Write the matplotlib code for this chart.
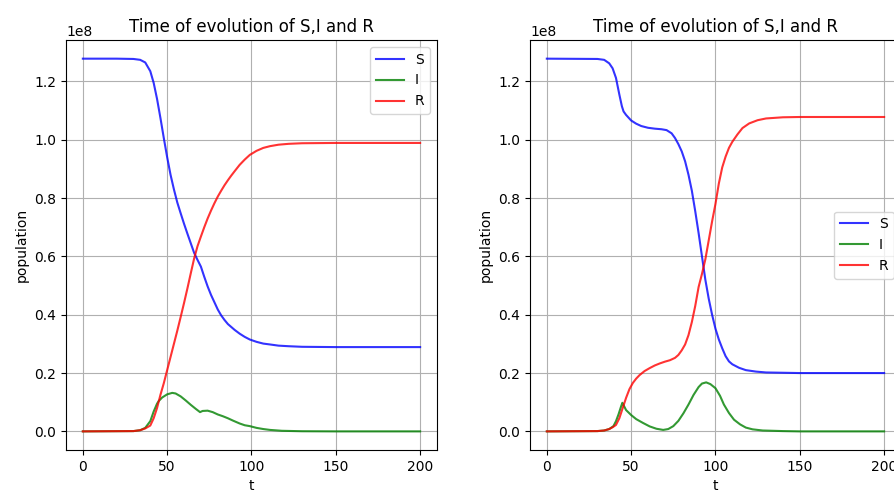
import numpy as np
import matplotlib
matplotlib.use('Agg')
import matplotlib.pyplot as plt

# first run: S, I, R (in units of 1e8 people)
t_s1 = [0, 20, 30, 34, 37, 40, 42, 44, 46, 48, 50, 52, 54, 56, 58, 60, 62, 64, 66, 68,
        70, 72, 74, 76, 78, 80, 82, 84, 86, 88, 90, 93, 96, 99, 103, 107, 111, 116, 122,
        130, 150, 200]
S1 = [1.278, 1.278, 1.277, 1.274, 1.265, 1.235, 1.195, 1.140, 1.075, 1.006, 0.940, 0.880,
      0.830, 0.785, 0.748, 0.712, 0.678, 0.645, 0.612, 0.588, 0.565, 0.530, 0.497, 0.468,
      0.443, 0.418, 0.398, 0.382, 0.368, 0.358, 0.348, 0.335, 0.324, 0.315, 0.307, 0.301,
      0.298, 0.294, 0.292, 0.290, 0.289, 0.289]

t_i1 = [0, 30, 34, 37, 40, 42, 44, 45, 47, 50, 53, 55, 58, 61, 64, 67, 69.5, 71, 74, 77,
        80, 83, 86, 89, 93, 96, 99, 103, 107, 111, 118, 130, 150, 200]
I1 = [0.0, 0.001, 0.004, 0.012, 0.035, 0.068, 0.095, 0.104, 0.116, 0.127, 0.132, 0.130,
      0.120, 0.106, 0.091, 0.077, 0.066, 0.070, 0.071, 0.066, 0.058, 0.052, 0.045, 0.037,
      0.027, 0.021, 0.018, 0.012, 0.008, 0.005, 0.002, 0.0005, 0.0, 0.0]

t_r1 = [0, 30, 34, 37, 40, 42, 44, 46, 48, 50, 52, 54, 56, 58, 60, 62, 64, 66, 68, 70,
        72, 74, 76, 78, 80, 82, 84, 86, 88, 90, 93, 96, 99, 103, 107, 111, 116, 122, 130,
        150, 200]
R1 = [0.0, 0.001, 0.004, 0.010, 0.020, 0.045, 0.080, 0.125, 0.165, 0.210, 0.255, 0.300,
      0.345, 0.392, 0.440, 0.490, 0.542, 0.593, 0.635, 0.668, 0.700, 0.730, 0.757, 0.782,
      0.805, 0.825, 0.844, 0.861, 0.877, 0.892, 0.914, 0.932, 0.948, 0.962, 0.972, 0.978,
      0.983, 0.986, 0.988, 0.989, 0.989]

# second run: two waves
t_s2 = [0, 30, 34, 37, 39, 41, 43, 44.5, 45.5, 47, 50, 53, 56, 60, 64, 68, 71, 74, 76,
        78, 80, 82, 84, 86, 88, 90, 92, 94, 96, 98, 100, 102, 104, 106, 108, 110, 114,
        118, 124, 130, 150, 200]
S2 = [1.278, 1.277, 1.274, 1.262, 1.245, 1.212, 1.155, 1.115, 1.097, 1.085, 1.066, 1.055,
      1.047, 1.041, 1.038, 1.036, 1.033, 1.022, 1.006, 0.985, 0.960, 0.926, 0.880, 0.825,
      0.755, 0.680, 0.600, 0.520, 0.455, 0.400, 0.352, 0.315, 0.285, 0.258, 0.240, 0.230,
      0.218, 0.210, 0.205, 0.202, 0.200, 0.200]

t_i2 = [0, 30, 34, 37, 39.5, 41, 42.5, 44, 44.8, 45.5, 47, 50, 53, 57, 61, 65, 69, 72,
        75, 78, 81, 84, 87, 90, 92, 94.5, 97, 100, 102.7, 105, 108, 111, 114.6, 118, 122,
        128, 140, 150, 200]
I2 = [0.0, 0.001, 0.003, 0.008, 0.018, 0.035, 0.058, 0.085, 0.098, 0.090, 0.073, 0.056,
      0.042, 0.029, 0.017, 0.009, 0.005, 0.008, 0.018, 0.036, 0.062, 0.092, 0.125, 0.152,
      0.164, 0.168, 0.162, 0.148, 0.122, 0.092, 0.063, 0.040, 0.024, 0.013, 0.007, 0.003,
      0.001, 0.0, 0.0]

t_r2 = [0, 30, 34, 37, 39, 41, 43, 45, 47, 49, 51, 53, 55, 58, 61, 64, 67, 70, 73, 76,
        78, 80, 82, 84, 86, 88, 90, 92, 94, 96, 98, 100, 102, 104, 106, 108, 110, 113,
        116, 120, 125, 130, 140, 150, 200]
R2 = [0.0, 0.001, 0.003, 0.008, 0.014, 0.022, 0.045, 0.080, 0.115, 0.145, 0.166, 0.181,
      0.193, 0.207, 0.217, 0.226, 0.233, 0.239, 0.244, 0.252, 0.262, 0.278, 0.298, 0.330,
      0.375, 0.430, 0.495, 0.540, 0.590, 0.655, 0.720, 0.780, 0.850, 0.905, 0.942, 0.972,
      0.993, 1.018, 1.040, 1.056, 1.067, 1.073, 1.077, 1.078, 1.078]

runs = [
    (t_s1, S1, t_i1, I1, t_r1, R1, 'upper right'),
    (t_s2, S2, t_i2, I2, t_r2, R2, 'center right'),
]

fig = plt.figure(figsize=(8.94, 4.93), dpi=100)
# second axes runs slightly past the right edge of the figure
boxes = [[0.0738, 0.0872, 0.415, 0.8316], [0.5928, 0.0872, 0.415, 0.8316]]

for box, (ts, S, ti, I, tr, R, loc) in zip(boxes, runs):
    ax = fig.add_axes(box)
    ax.plot(ts, np.array(S) * 1e8, 'b', alpha=0.8, lw=1.5, label='S')
    ax.plot(ti, np.array(I) * 1e8, 'g', alpha=0.8, lw=1.5, label='I')
    ax.plot(tr, np.array(R) * 1e8, 'r', alpha=0.8, lw=1.5, label='R')
    ax.set_xlabel('t')
    ax.set_ylabel('population')
    ax.set_title('Time of evolution of S,I and R')
    ax.set_xticks([0, 50, 100, 150, 200])
    ax.grid(True)
    ax.legend(loc=loc)

plt.savefig('out.png', dpi=100)
